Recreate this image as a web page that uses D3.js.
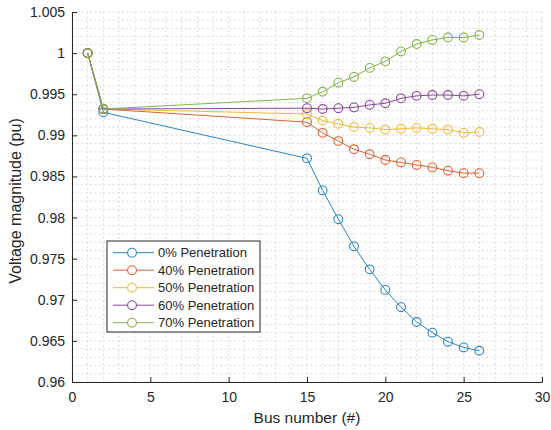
<!DOCTYPE html>
<html><head><meta charset="utf-8">
<script src="https://cdn.jsdelivr.net/npm/d3@7"></script>
<style>
body{margin:0;background:#fff;}
text{font-family:"Liberation Sans",Arial,sans-serif;}
</style></head>
<body>
<svg id="c" width="551" height="430"></svg>
<script>
const buses = [1, 2, 15, 16, 17, 18, 19, 20, 21, 22, 23, 24, 25, 26];
const seriesNames = ["0% Penetration", "40% Penetration", "50% Penetration", "60% Penetration", "70% Penetration"];
const seriesColors = ["#2a86c8", "#dc6232", "#efbb3c", "#8c479b", "#83b447"];
const pen0  = [1.0, 0.9928, 0.9872, 0.9833, 0.9798, 0.9765, 0.9737, 0.9712, 0.9691, 0.9673, 0.9660, 0.9649, 0.9642, 0.9638];
const pen40 = [1.0, 0.9932, 0.9916, 0.9903, 0.9893, 0.9883, 0.9877, 0.9870, 0.9867, 0.9864, 0.9861, 0.9857, 0.9854, 0.9854];
const pen50 = [1.0, 0.9932, 0.9926, 0.9918, 0.9914, 0.9910, 0.9909, 0.9907, 0.9908, 0.9909, 0.9908, 0.9907, 0.9903, 0.9904];
const pen60 = [1.0, 0.9932, 0.9933, 0.9932, 0.9933, 0.9934, 0.9937, 0.9939, 0.9945, 0.9948, 0.9949, 0.9949, 0.9948, 0.9950];
const pen70 = [1.0, 0.9932, 0.9945, 0.9953, 0.9964, 0.9971, 0.9982, 0.9990, 1.0002, 1.0011, 1.0016, 1.0019, 1.0019, 1.0022];
const seriesValues = [pen0, pen40, pen50, pen60, pen70];
const xTicks = [0, 5, 10, 15, 20, 25, 30];
const yTicks = [0.96, 0.965, 0.97, 0.975, 0.98, 0.985, 0.99, 0.995, 1, 1.005];
const yTickLabels = ["0.96", "0.965", "0.97", "0.975", "0.98", "0.985", "0.99", "0.995", "1", "1.005"];

const svg = d3.select("#c");
const L = 72, R = 542, T = 12, B = 382;
const x = d3.scaleLinear().domain([0, 30]).range([L, R]);
const y = d3.scaleLinear().domain([0.96, 1.005]).range([B, T]);
const axisColor = "#262626";

// grid (minor + major)
const g = svg.append("g");
const minorX = d3.range(0, 31, 1);
const minorY = d3.range(0, 46, 1).map(i => 0.96 + i * 0.001);
g.selectAll("line.vx").data(minorX).enter().append("line")
  .attr("x1", d => x(d)).attr("x2", d => x(d)).attr("y1", T).attr("y2", B)
  .attr("stroke", "#dcdcdc").attr("stroke-width", 1).attr("stroke-dasharray", "2,2.5");
g.selectAll("line.hy").data(minorY).enter().append("line")
  .attr("y1", d => y(d)).attr("y2", d => y(d)).attr("x1", L).attr("x2", R)
  .attr("stroke", "#dcdcdc").attr("stroke-width", 1).attr("stroke-dasharray", "2,2.5");

// axes
const xAxis = d3.axisBottom(x).tickValues(xTicks).tickSizeInner(-5).tickSizeOuter(0).tickPadding(10);
const yAxis = d3.axisLeft(y).tickValues(yTicks).tickFormat((d, i) => yTickLabels[i]).tickSizeInner(-5).tickSizeOuter(0).tickPadding(7);
const gx = svg.append("g").attr("transform", `translate(0,${B})`).call(xAxis);
const gy = svg.append("g").attr("transform", `translate(${L},0)`).call(yAxis);
[gx, gy].forEach(a => {
  a.select(".domain").attr("stroke", axisColor).attr("stroke-width", 1);
  a.selectAll(".tick line").attr("stroke", axisColor);
  a.selectAll(".tick text").attr("fill", axisColor).style("font-size", "14px").style("font-family", "'Liberation Sans',Arial,sans-serif");
});
gx.selectAll(".tick text").attr("dy", "0.71em");

svg.append("text").attr("x", (L + R) / 2).attr("y", 423).attr("text-anchor", "middle")
  .attr("fill", axisColor).style("font-size", "15.5px").text("Bus number (#)");
svg.append("text").attr("transform", `translate(21,${(T + B) / 2 + 4}) rotate(-90)`).attr("text-anchor", "middle")
  .attr("fill", axisColor).style("font-size", "16px").text("Voltage magnitude (pu)");

// series
const line = d3.line().x((d, i) => x(buses[i])).y(d => y(d));
seriesValues.forEach((vals, si) => {
  const sg = svg.append("g");
  sg.append("path").datum(vals).attr("d", line).attr("fill", "none")
    .attr("stroke", seriesColors[si]).attr("stroke-width", 1);
  sg.selectAll("circle").data(vals).enter().append("circle")
    .attr("cx", (d, i) => x(buses[i])).attr("cy", d => y(d)).attr("r", 4.4)
    .attr("fill", "none").attr("stroke", seriesColors[si]).attr("stroke-width", 1.1);
});

// legend
const lg = svg.append("g");
const lx = 107, ly = 241, lw = 153, lh = 91;
lg.append("rect").attr("x", lx).attr("y", ly).attr("width", lw).attr("height", lh)
  .attr("fill", "#fff").attr("stroke", axisColor).attr("stroke-width", 1);
seriesNames.forEach((name, i) => {
  const yy = ly + 11.7 + i * 17.5;
  lg.append("line").attr("x1", lx + 6).attr("x2", lx + 47).attr("y1", yy).attr("y2", yy)
    .attr("stroke", seriesColors[i]).attr("stroke-width", 1);
  lg.append("circle").attr("cx", lx + 25).attr("cy", yy).attr("r", 4.4)
    .attr("fill", "#fff").attr("stroke", seriesColors[i]).attr("stroke-width", 1.1);
  lg.append("text").attr("x", lx + 51).attr("y", yy).attr("dy", "0.35em")
    .attr("fill", axisColor).style("font-size", "13px").text(name);
});
</script>
</body></html>
